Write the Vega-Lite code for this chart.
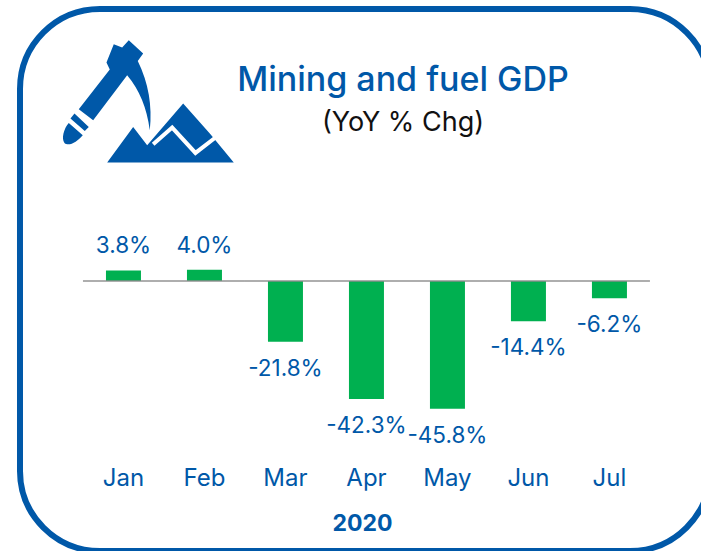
{
"$schema":"https://vega.github.io/schema/vega-lite/v6.json",
"autosize":"none",
"padding":{"left":20,"top":9,"right":0,"bottom":0},
"width":690,"height":542,
"background":"white",
"view":{"stroke":"#0058a8","strokeWidth":6,"cornerRadius":80,"fill":"white"},
"title":{"text":"Mining and fuel GDP","subtitle":"(YoY % Chg)","font":"Inter","fontSize":34,"fontWeight":500,"color":"#0058a8","subtitleFont":"Inter","subtitleFontSize":27,"subtitleColor":"#111111","subtitlePadding":12,"anchor":"middle","dx":38,"offset":-127},
"data":{"values":[
{"month":"Jan","value":3.8,"label":"3.8%"},
{"month":"Feb","value":4.0,"label":"4.0%"},
{"month":"Mar","value":-21.8,"label":"-21.8%"},
{"month":"Apr","value":-42.3,"label":"-42.3%"},
{"month":"May","value":-45.8,"label":"-45.8%"},
{"month":"Jun","value":-14.4,"label":"-14.4%"},
{"month":"Jul","value":-6.2,"label":"-6.2%"}
]},
"encoding":{
"x":{"field":"month","type":"nominal","sort":null,
"scale":{"paddingInner":0.481,"paddingOuter":1,"align":0.509},
"axis":{"title":"2020","orient":"bottom","offset":-85,"domain":false,"ticks":false,"grid":false,"labelAngle":0,"labelFont":"Inter","labelFontSize":24,"labelColor":"#0058a8","labelPadding":0,"titleFont":"Inter","titleFontSize":23,"titleFontWeight":"bold","titleColor":"#0058a8","titlePadding":22,"titleX":342}}
},
"layer":[
{"mark":{"type":"bar","color":"#00b050","size":35},
 "encoding":{"y":{"field":"value","type":"quantitative","scale":{"domain":[-96.8,97.5],"nice":false,"zero":false},"axis":null}}},
{"mark":{"type":"tick","orient":"horizontal","size":81,"thickness":2,"color":"#8c8c8c"},
 "encoding":{"y":{"datum":0,"type":"quantitative"}}},
{"transform":[{"filter":"datum.value>=0"}],
 "mark":{"type":"text","font":"Inter","fontSize":22.5,"color":"#0058a8","dy":-24},
 "encoding":{"y":{"field":"value","type":"quantitative"},"text":{"field":"label"}}},
{"transform":[{"filter":"datum.value<0"}],
 "mark":{"type":"text","font":"Inter","fontSize":22.5,"color":"#0058a8","dy":27},
 "encoding":{"y":{"field":"value","type":"quantitative"},"text":{"field":"label"}}},
{"data":{"values":[{"logo":"pick"}]},
 "mark":{"type":"point","filled":true,"size":4,"opacity":1,"color":"#0058a8","xOffset":27,
 "shape":"M-36.7,-61 L-28.3,-57.7 L-21.7,-65 L-7.3,-51.7 L-12.7,-44.3 Q3.3,-11.7 -0.7,25 Q-5,-8.3 -23.3,-30 L-57.3,15 L-71.7,4 L-40.7,-35.7 L-44,-42.7 Z M-76,8.3 L-61.7,21.7 L-65.7,25.7 L-80,13.3 Z M-81.7,17.7 L-67.7,30 C-73.3,36.7 -81.7,41.7 -86,37.7 C-89.3,33.3 -86.7,23.3 -81.7,17.7 Z M-43.3,57.3 L-17.3,21.7 L-3.3,40 L32.7,-1.7 L60,29 L83.3,57.3 Z"},
 "encoding":{"x":{"datum":"Jan"},"y":{"datum":63,"type":"quantitative"}}},
{"data":{"values":[{"logo":"ridge"}]},
 "mark":{"type":"point","filled":false,"size":4,"opacity":1,"stroke":"white","strokeWidth":4,"xOffset":27,
 "shape":"M2.7,39 L21.7,22.3 L45,47.7 L65,32.3"},
 "encoding":{"x":{"datum":"Jan"},"y":{"datum":63,"type":"quantitative"}}}
]
}
